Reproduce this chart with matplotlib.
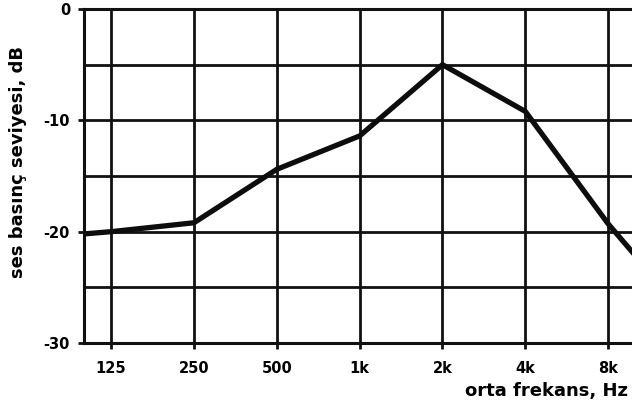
import matplotlib.pyplot as plt
import numpy as np

# octave band centre frequencies and measured levels (dB)
freqs = [100, 125, 250, 500, 1000, 2000, 4000, 8000, 16000]
levels = [-20.2, -20.0, -19.2, -14.4, -11.4, -5.0, -9.2, -19.3, -28.0]

tick_freqs = [125, 250, 500, 1000, 2000, 4000, 8000]
tick_labels = ["125", "250", "500", "1k", "2k", "4k", "8k"]
y_ticks = [0, -10, -20, -30]
y_grid = [0, -5, -10, -15, -20, -25, -30]

plt.rcParams['font.family'] = 'DejaVu Sans'
plt.rcParams['font.weight'] = 'bold'

fig = plt.figure(figsize=(6.32, 4.08), dpi=100)
ax = fig.add_axes([84 / 632, 1 - 343 / 408, 1 - 84 / 632 + 0.002, (343 - 9) / 408])

ax.set_xscale('log', base=2)
ax.set_xlim(125 * 2 ** (-27 / 82.6), 8000 * 2 ** (25 / 82.6))
ax.set_ylim(-30, 0)

# grid drawn as plain lines so it looks like the printed chart
for f in tick_freqs:
    ax.axvline(f, color='#111111', lw=2.0, zorder=1)
for v in y_grid:
    ax.axhline(v, color='#111111', lw=2.0, zorder=1)

ax.plot(freqs, levels, color='#0d0d0d', lw=3.8, solid_joinstyle='miter', zorder=3)

ax.set_xticks(tick_freqs)
ax.set_xticklabels(tick_labels)
ax.xaxis.set_minor_locator(plt.NullLocator())
ax.set_yticks(y_ticks)
ax.set_yticklabels([str(v) for v in y_ticks])
ax.tick_params(axis='both', direction='out', length=4, width=2, color='#111111',
               labelsize=10.5, pad=9)
ax.tick_params(axis='y', pad=6)

for side in ['left', 'bottom', 'top']:
    ax.spines[side].set_linewidth(2.2)
    ax.spines[side].set_color('#111111')
ax.spines['right'].set_visible(False)

fig.text(18 / 632, 1 - 162 / 408, "ses basınç seviyesi, dB", rotation=90,
         ha='center', va='center', fontsize=13, fontweight='bold')
fig.text(628 / 632, 1 - 391 / 408, "orta frekans, Hz", ha='right', va='center',
         fontsize=13, fontweight='bold')

fig.savefig("out.png", dpi=100)
